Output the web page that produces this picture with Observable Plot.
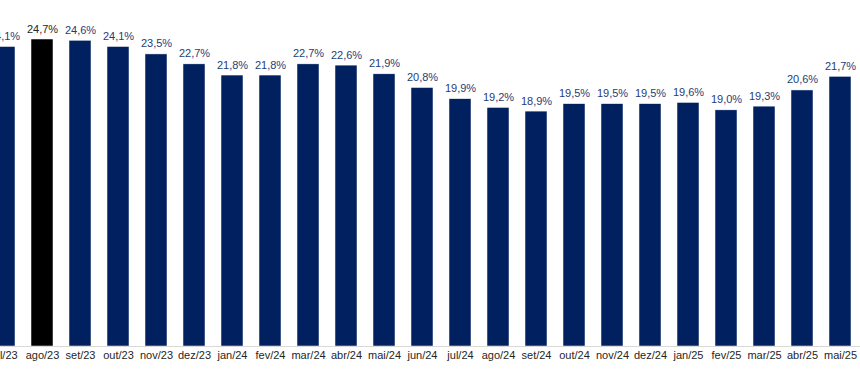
<!DOCTYPE html>
<html>
<head>
<meta charset="utf-8">
<script src="https://cdn.jsdelivr.net/npm/d3@7"></script>
<script src="https://cdn.jsdelivr.net/npm/@observablehq/plot@0.6"></script>
<style>
  html, body { margin: 0; padding: 0; background: #fff; overflow: hidden; }
  #chart svg { display: block; overflow: hidden; }
</style>
</head>
<body>
<div id="chart"></div>
<script>
const months = ["jul/23","ago/23","set/23","out/23","nov/23","dez/23","jan/24","fev/24","mar/24","abr/24","mai/24","jun/24","jul/24","ago/24","set/24","out/24","nov/24","dez/24","jan/25","fev/25","mar/25","abr/25","mai/25"];
const values = [24.1,24.7,24.6,24.1,23.5,22.7,21.8,21.8,22.7,22.6,21.9,20.8,19.9,19.2,18.9,19.5,19.5,19.5,19.6,19.0,19.3,20.6,21.7];
const highlight = ["ago/23"];

const data = months.map((m, i) => ({month: m, value: values[i], hi: highlight.includes(m)}));
const fmt = v => v.toFixed(1).replace(".", ",") + "%";

const chart = Plot.plot({
  width: 860,
  height: 378,
  marginTop: 0, marginBottom: 32, marginLeft: 0, marginRight: 0,
  style: {fontFamily: "'Liberation Sans', Arial, sans-serif", fontSize: "11px", background: "#fff"},
  x: {domain: months, range: [-17.3, 861.1], paddingInner: 0.42, paddingOuter: 0.21, label: null},
  y: {domain: [0, 24.7], range: [346, 39], axis: null},
  marks: [
    Plot.barY(data, {x: "month", y: "value", fill: d => d.hi ? "#000000" : "#002060", stroke: "#fff", strokeWidth: 0.5}),
    Plot.ruleY([0], {stroke: "#d9d9d9", strokeWidth: 1}),
    Plot.text(data, {x: "month", y: "value", text: d => fmt(d.value), lineAnchor: "bottom", dy: -7, fill: d => d.hi ? "#262626" : "#1f3c78", fontSize: 11}),
    Plot.axisX({tickSize: 0, tickPadding: 5, fontSize: 11, fill: "#262626", label: null})
  ]
});
document.getElementById("chart").appendChild(chart);
</script>
</body>
</html>
